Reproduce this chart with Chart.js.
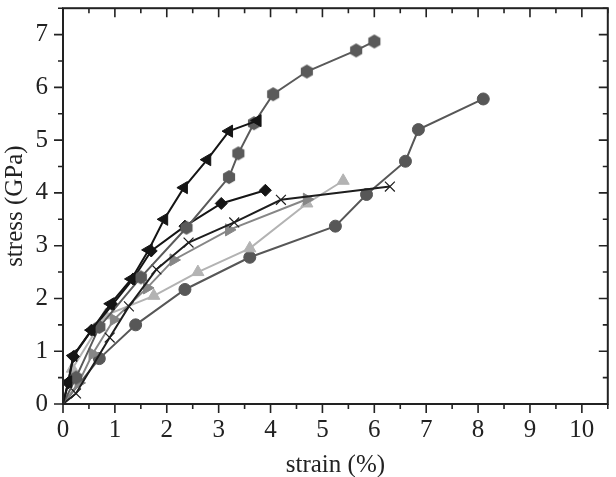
<!DOCTYPE html>
<html lang="en">
<head>
    <meta charset="UTF-8">
    <title>stress vs strain</title>
    <script src="https://cdn.jsdelivr.net/npm/chart.js"></script>
    <style>
        body { margin: 0; background: #fff; }
        #wrap { width: 616px; height: 477px; }
    </style>
</head>
<body>
    <div id="wrap"><canvas id="chart"></canvas></div>

    <script>
        // strain (%) / stress (GPa) pairs, one array per sample
        const hexStrain    = [0, 0.25, 0.7, 1.5, 2.38, 3.2, 3.38, 3.68, 4.05, 4.7, 5.65, 6.0];
        const hexStress    = [0, 0.5, 1.46, 2.4, 3.34, 4.3, 4.75, 5.32, 5.87, 6.3, 6.7, 6.87];

        const leftStrain   = [0, 0.1, 0.2, 0.55, 0.92, 1.32, 1.65, 1.95, 2.33, 2.78, 3.2, 3.75];
        const leftStress   = [0, 0.42, 0.92, 1.4, 1.9, 2.37, 2.92, 3.5, 4.1, 4.63, 5.17, 5.37];

        const diamStrain   = [0, 0.1, 0.2, 0.55, 0.95, 1.35, 1.7, 2.35, 3.05, 3.9];
        const diamStress   = [0, 0.4, 0.9, 1.4, 1.88, 2.37, 2.9, 3.37, 3.8, 4.05];

        const crossStrain  = [0, 0.25, 0.9, 1.27, 1.8, 2.42, 3.3, 4.2, 6.3];
        const crossStress  = [0, 0.2, 1.26, 1.85, 2.55, 3.06, 3.44, 3.87, 4.12];

        const rightStrain  = [0, 0.3, 0.57, 0.98, 1.62, 2.13, 3.2, 4.7];
        const rightStress  = [0, 0.4, 0.95, 1.6, 2.2, 2.73, 3.3, 3.88];

        const lightStrain  = [0, 0.18, 0.82, 1.75, 2.6, 3.6, 4.7, 5.4];
        const lightStress  = [0, 0.67, 1.68, 2.05, 2.5, 2.95, 3.8, 4.23];

        const circStrain   = [0, 0.7, 1.4, 2.35, 3.6, 5.25, 5.85, 6.6, 6.85, 8.1];
        const circStress   = [0, 0.86, 1.5, 2.17, 2.78, 3.37, 3.97, 4.6, 5.2, 5.78];

        const pairs = (xs, ys) => xs.map((v, i) => ({ x: v, y: ys[i] }));

        // hexagon marker
        function hexagon(color, r) {
            const c = document.createElement('canvas');
            c.width = c.height = r * 2 + 2;
            const g = c.getContext('2d');
            g.fillStyle = color;
            g.beginPath();
            for (let k = 0; k < 6; k++) {
                const a = Math.PI / 6 + k * Math.PI / 3;
                const px = r + 1 + r * Math.cos(a), py = r + 1 + r * Math.sin(a);
                k ? g.lineTo(px, py) : g.moveTo(px, py);
            }
            g.closePath();
            g.fill();
            return c;
        }

        const hideOrigin = r => ctx => ctx.dataIndex === 0 ? 0 : r;

        function series(data, color, style, radius, rotation, order) {
            return {
                data: data,
                borderColor: color,
                backgroundColor: color,
                borderWidth: 2,
                pointStyle: style,
                pointRadius: hideOrigin(radius),
                pointRotation: rotation,
                pointBorderWidth: style === 'crossRot' ? 1.2 : 1,
                pointBorderColor: color,
                pointBackgroundColor: color,
                showLine: true,
                fill: false,
                order: order
            };
        }

        // frame with ticks: outward on bottom/left, inward on top/right
        const frame = {
            id: 'frame',
            afterDraw(chart) {
                const { ctx, chartArea: a, scales: { x, y } } = chart;
                ctx.save();
                ctx.strokeStyle = '#222';
                ctx.lineWidth = 2;
                ctx.strokeRect(a.left, a.top, a.right - a.left, a.bottom - a.top);
                ctx.lineWidth = 1.6;
                ctx.beginPath();
                x.ticks.forEach(t => {
                    const px = x.getPixelForValue(t.value);
                    const len = Number.isInteger(t.value) ? 9 : 5;
                    ctx.moveTo(px, a.bottom); ctx.lineTo(px, a.bottom + len);
                    ctx.moveTo(px, a.top); ctx.lineTo(px, a.top + len);
                });
                y.ticks.forEach(t => {
                    const py = y.getPixelForValue(t.value);
                    const len = Number.isInteger(t.value) ? 9 : 5;
                    ctx.moveTo(a.left, py); ctx.lineTo(a.left - len, py);
                    ctx.moveTo(a.right, py); ctx.lineTo(a.right - len, py);
                });
                ctx.stroke();
                ctx.restore();
            }
        };

        const serif = 'Liberation Serif';
        const intOnly = v => Number.isInteger(v) ? v : '';

        new Chart(document.getElementById('chart').getContext('2d'), {
            type: 'scatter',
            data: {
                datasets: [
                    series(pairs(circStrain, circStress), '#575757', 'circle', 6, 0, 7),
                    series(pairs(lightStrain, lightStress), '#b3b3b3', 'triangle', 7, 0, 6),
                    series(pairs(rightStrain, rightStress), '#868686', 'triangle', 7, 90, 5),
                    series(pairs(crossStrain, crossStress), '#1e1e1e', 'crossRot', 7, 0, 4),
                    series(pairs(diamStrain, diamStress), '#151515', 'rectRot', 6, 0, 3),
                    series(pairs(hexStrain, hexStress), '#5a5a5a', hexagon('#5a5a5a', 7), 7, 0, 2),
                    series(pairs(leftStrain, leftStress), '#151515', 'triangle', 7, -90, 1)
                ]
            },
            options: {
                responsive: true,
                maintainAspectRatio: false,
                animation: false,
                layout: { padding: { top: 2, right: 4, left: 0, bottom: 0 } },
                plugins: { legend: { display: false }, tooltip: { enabled: false } },
                scales: {
                    x: {
                        type: 'linear', min: 0, max: 10.5,
                        grid: { display: false, drawTicks: false }, border: { display: false },
                        ticks: { stepSize: 0.5, autoSkip: false, maxRotation: 0, callback: intOnly,
                                 padding: 11, color: '#222', font: { family: serif, size: 25 } },
                        title: { display: true, text: 'strain (%)', color: '#222',
                                 font: { family: serif, size: 25 }, padding: { top: 0, bottom: -3 } },
                        afterFit: s => { s.height = 73; s.paddingLeft = 0; s.paddingRight = 0; }
                    },
                    y: {
                        type: 'linear', min: 0, max: 7.5,
                        grid: { display: false, drawTicks: false }, border: { display: false },
                        ticks: { stepSize: 0.5, autoSkip: false, callback: intOnly,
                                 padding: 15, color: '#222', font: { family: serif, size: 25 } },
                        title: { display: true, text: 'stress (GPa)', color: '#222',
                                 font: { family: serif, size: 25 }, padding: { top: 0, bottom: 4 } },
                        afterFit: s => { s.width = 63; s.paddingTop = 0; s.paddingBottom = 0; }
                    }
                }
            },
            plugins: [frame]
        });
    </script>
</body>
</html>
